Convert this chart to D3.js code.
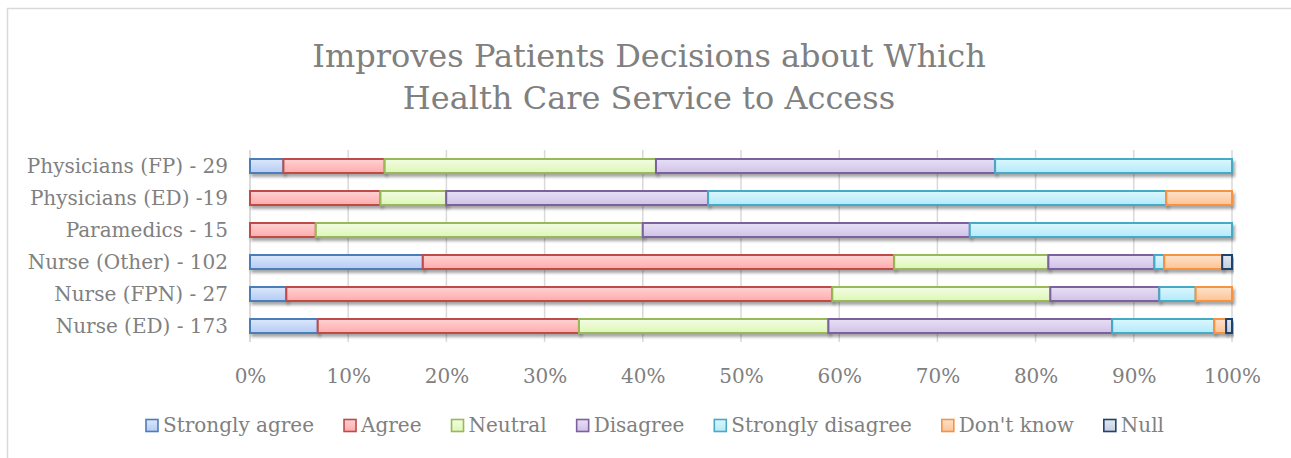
<!DOCTYPE html>
<html>
<head>
<meta charset="utf-8">
<script src="https://cdn.jsdelivr.net/npm/d3@7"></script>
<style>
  html, body { margin: 0; padding: 0; background: #fff; }
  svg { display: block; }
</style>
</head>
<body>
<svg id="chart" width="1291" height="458"></svg>
<script>
// ---- Data (top-to-bottom display order), percentages ----
const categories = ["Physicians (FP) - 29", "Physicians (ED) -19", "Paramedics - 15", "Nurse (Other) - 102", "Nurse (FPN) - 27", "Nurse (ED) - 173"];
const seriesNames = ["Strongly agree", "Agree", "Neutral", "Disagree", "Strongly disagree", "Don't know", "Null"];
const stronglyAgree    = [3.4, 0,    0,    17.6, 3.7,  6.9];
const agree            = [10.3, 13.3, 6.7, 48.0, 55.6, 26.6];
const neutral          = [27.6, 6.7, 33.3, 15.7, 22.2, 25.4];
const disagree         = [34.5, 26.7, 33.3, 10.8, 11.1, 28.9];
const stronglyDisagree = [24.1, 46.7, 26.7, 1.0, 3.7, 10.4];
const dontKnow         = [0,    6.7,  0,    5.9, 3.7,  1.2];
const nullResp         = [0,    0,    0,    1.0, 0,    0.6];
const tickValues = [0, 0.1, 0.2, 0.3, 0.4, 0.5, 0.6, 0.7, 0.8, 0.9, 1.0];
const titleLines = ["Improves Patients Decisions about Which", "Health Care Service to Access"];

// ---- Styles ----
const strokeColors = ["#4a7ebb", "#be4b48", "#98b954", "#7d60a0", "#46aac5", "#f69240", "#1f4270"];
const fillTop      = ["#dce7fb", "#ffd3d3", "#f3fde3", "#e8e0f4", "#dcf7fe", "#fee2cc", "#e3e8f0"];
const fillBottom   = ["#b5ccf4", "#ffabab", "#ddf6b8", "#d0c2e8", "#b3eafa", "#fcc396", "#c3cede"];
const font = "'DejaVu Serif', serif";
const textColor = "#808080";

const seriesValues = [stronglyAgree, agree, neutral, disagree, stronglyDisagree, dontKnow, nullResp];
const table = categories.map((c, i) => {
  const row = { category: c };
  seriesNames.forEach((s, j) => row[s] = seriesValues[j][i]);
  return row;
});
const stacked = d3.stack().keys(seriesNames).offset(d3.stackOffsetExpand)(table);

const svg = d3.select("#chart");
svg.append("rect").attr("width", 1291).attr("height", 458).attr("fill", "#fff");
// outer frame (left/top visible)
svg.append("rect").attr("x", 7.5).attr("y", 8.5).attr("width", 1400).attr("height", 600)
  .attr("fill", "none").attr("stroke", "#d9d9d9").attr("stroke-width", 1.5);

const defs = svg.append("defs");
seriesNames.forEach((s, j) => {
  const g = defs.append("linearGradient").attr("id", "grad" + j)
    .attr("x1", 0).attr("y1", 0).attr("x2", 0).attr("y2", 1);
  g.append("stop").attr("offset", "0%").attr("stop-color", fillTop[j]);
  g.append("stop").attr("offset", "100%").attr("stop-color", fillBottom[j]);
});
const f = defs.append("filter").attr("id", "shadow")
  .attr("x", "-5%").attr("y", "-50%").attr("width", "120%").attr("height", "220%");
f.append("feDropShadow").attr("dx", 2).attr("dy", 3).attr("stdDeviation", 1.6)
  .attr("flood-color", "#000").attr("flood-opacity", 0.35);

const x = d3.scaleLinear().domain([0, 1]).range([250, 1232]);
const y = d3.scaleBand().domain(categories).range([150, 342])
  .paddingInner(0.5625).paddingOuter(0.28125);

// Title
svg.append("g").selectAll("text").data(titleLines).join("text")
  .attr("x", 649).attr("y", (d, i) => 67 + i * 42)
  .attr("text-anchor", "middle")
  .attr("font-family", font).attr("font-size", 32)
  .attr("fill", textColor).text(d => d);

// Gridlines
const grid = svg.append("g");
grid.selectAll("line").data(tickValues).join("line")
  .attr("x1", d => x(d)).attr("x2", d => x(d))
  .attr("y1", 150).attr("y2", 342)
  .attr("stroke", "#d9d9d9").attr("stroke-width", 1.5);

// X axis labels via d3 axis
const xAxis = svg.append("g").attr("transform", "translate(0,366)")
  .call(d3.axisBottom(x).tickValues(tickValues).tickFormat(d3.format(".0%")).tickSize(0).tickPadding(0));
xAxis.select(".domain").remove();
xAxis.selectAll("text").attr("font-family", font).attr("font-size", 20)
  .attr("fill", textColor).attr("dy", "0.85em");

// Y axis labels
const yAxis = svg.append("g").attr("transform", "translate(250,0)")
  .call(d3.axisLeft(y).tickSize(0).tickPadding(22));
yAxis.select(".domain").attr("stroke", "#d9d9d9").attr("stroke-width", 1.5)
  .attr("d", "M0,150V342");
yAxis.selectAll("text").attr("font-family", font).attr("font-size", 20)
  .attr("fill", textColor).attr("dy", "0.35em");

// Bars
const barsG = svg.append("g");
stacked.forEach((layer, j) => {
  const g = barsG.append("g").attr("filter", "url(#shadow)");
  g.selectAll("rect").data(layer.filter(d => d[1] - d[0] > 0)).join("rect")
    .attr("x", d => x(d[0]))
    .attr("y", d => y(d.data.category))
    .attr("width", d => x(d[1]) - x(d[0]))
    .attr("height", y.bandwidth())
    .attr("fill", "url(#grad" + j + ")")
    .attr("stroke", strokeColors[j]).attr("stroke-width", 2);
});

// Legend
const legend = svg.append("g");
const items = legend.selectAll("g").data(seriesNames).join("g");
items.append("rect").attr("width", 12).attr("height", 12).attr("y", -12.5)
  .attr("fill", (d, j) => "url(#grad" + j + ")")
  .attr("stroke", (d, j) => strokeColors[j]).attr("stroke-width", 1.6);
items.append("text").attr("x", 17).attr("y", 0)
  .attr("font-family", font).attr("font-size", 20).attr("fill", textColor)
  .text(d => d);
let cx = 0;
const gap = 30;
items.each(function () {
  const w = this.querySelector("text").getComputedTextLength() + 17;
  d3.select(this).attr("transform", `translate(${cx},0)`);
  cx += w + gap;
});
const total = cx - gap;
legend.attr("transform", `translate(${655 - total / 2},432)`);
</script>
</body>
</html>
